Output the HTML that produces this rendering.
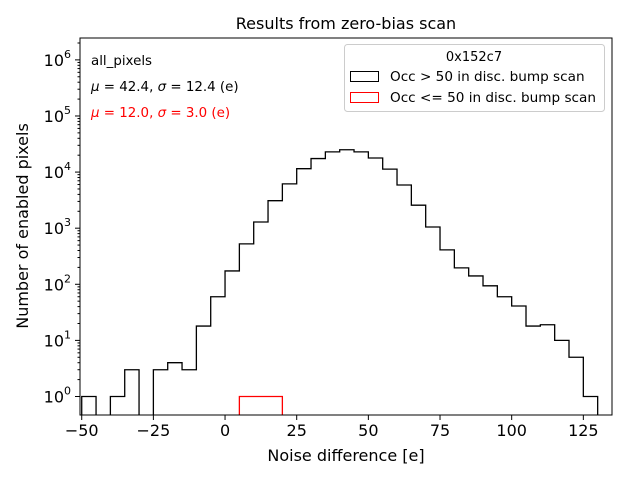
<!DOCTYPE html>
<html><head><meta charset="utf-8"><style>
body{margin:0;background:#fff;}
svg text{font-family:"DejaVu Sans","Liberation Sans",sans-serif;}
</style></head><body>
<svg id="chart" width="640" height="480" viewBox="0 0 640 480">
<rect width="640" height="480" fill="#fff"/>
<text x="346" y="29" font-size="16" text-anchor="middle">Results from zero-bias scan</text>
<g id="marks"></g>
<rect x="80" y="38" width="532" height="377" fill="none" stroke="#000" stroke-width="1"/>
<g id="axes"></g>
<text x="346" y="461" font-size="16" text-anchor="middle">Noise difference [e]</text>
<text transform="translate(28,226) rotate(-90)" font-size="16" text-anchor="middle">Number of enabled pixels</text>
<text x="91" y="65" font-size="13.4">all_pixels</text>
<text x="91" y="91" font-size="13.4"><tspan font-style="italic">μ</tspan> = 42.4, <tspan font-style="italic">σ</tspan> = 12.4 (e)</text>
<text x="91" y="117" font-size="13.4" fill="#ff0000"><tspan font-style="italic">μ</tspan> = 12.0, <tspan font-style="italic">σ</tspan> = 3.0 (e)</text>
<g>
<rect x="344.5" y="44.5" width="260" height="67" rx="3" fill="#fff" stroke="#ccc"/>
<text x="474" y="61" font-size="13" text-anchor="middle">0x152c7</text>
<rect x="350.5" y="71.5" width="28" height="10" fill="none" stroke="#000"/>
<text x="390" y="81" font-size="13.6">Occ &gt; 50 in disc. bump scan</text>
<rect x="350.5" y="92.5" width="28" height="10" fill="none" stroke="#ff0000"/>
<text x="390" y="102" font-size="13.6">Occ &lt;= 50 in disc. bump scan</text>
</g>
</svg>
<script>
const binStarts = [-50,-45,-40,-35,-30,-25,-20,-15,-10,-5,0,5,10,15,20,25,30,35,40,45,50,55,60,65,70,75,80,85,90,95,100,105,110,115,120,125];
const countsHigh = [1,0,1,3,0,3,4,3,18,60,173,525,1290,3090,6170,11500,17400,22900,25000,22900,17800,11300,5890,2570,1050,410,196,141,94,60,41,18,19,10,5,1];
const redBinStarts = [5,10,15];
const countsLow = [1,1,1];
const binWidth = 5;
const xTicks = [-50,-25,0,25,50,75,100,125];
const yTickExps = [0,1,2,3,4,5,6];

const NS="http://www.w3.org/2000/svg";
const L=80,R=612,T=38,B=415;
const xmin=-50.6,xmax=135;
const ymin=-0.33,ymax=6.39;
function xs(v){return L+(v-xmin)/(xmax-xmin)*(R-L);}
function ys(c){if(c<=0)return B+5;const l=Math.log10(c);return B-(l-ymin)/(ymax-ymin)*(B-T);}

function stepPath(starts,vals){
  let d="";
  for(let i=0;i<starts.length;i++){
    const x0=xs(starts[i]),x1=xs(starts[i]+binWidth),y=ys(vals[i]);
    if(i===0||starts[i]!==starts[i-1]+binWidth){d+="M"+x0+","+(B+5);}
    d+="L"+x0+","+y+"L"+x1+","+y;
    if(i===starts.length-1||starts[i+1]!==starts[i]+binWidth){d+="L"+x1+","+(B+5);}
  }
  return d;
}
const marks=document.getElementById("marks");
const clip=document.createElementNS(NS,"clipPath");clip.setAttribute("id","pc");
const cr=document.createElementNS(NS,"rect");cr.setAttribute("x",L);cr.setAttribute("y",T);cr.setAttribute("width",R-L);cr.setAttribute("height",B-T);
clip.appendChild(cr);marks.appendChild(clip);
const p1=document.createElementNS(NS,"path");


p1.setAttribute("d",stepPath(binStarts,countsHigh));p1.setAttribute("fill","none");p1.setAttribute("stroke","#000");p1.setAttribute("stroke-width","1.3");p1.setAttribute("clip-path","url(#pc)");
marks.appendChild(p1);
const p2=document.createElementNS(NS,"path");


p2.setAttribute("d",stepPath(redBinStarts,countsLow));p2.setAttribute("fill","none");p2.setAttribute("stroke","#ff0000");p2.setAttribute("stroke-width","1.3");p2.setAttribute("clip-path","url(#pc)");
marks.appendChild(p2);

const axes=document.getElementById("axes");
function line(x1,y1,x2,y2){const l=document.createElementNS(NS,"line");l.setAttribute("x1",x1);l.setAttribute("y1",y1);l.setAttribute("x2",x2);l.setAttribute("y2",y2);l.setAttribute("stroke","#000");axes.appendChild(l);return l;}
xTicks.forEach(v=>{
  const x=xs(v);const tk=line(x,B,x,B+5);
  
  
  const t=document.createElementNS(NS,"text");
  
  
  t.setAttribute("x",x);t.setAttribute("y",B+21);t.setAttribute("font-size","16");t.setAttribute("text-anchor","middle");
  t.textContent=(v<0?"\u2212"+(-v):String(v));axes.appendChild(t);
});
yTickExps.forEach(e=>{
  const y=ys(Math.pow(10,e));const tk=line(L-5,y,L,y);
  
  
  const t=document.createElementNS(NS,"text");
  
  
  t.setAttribute("x",L-9);t.setAttribute("y",y+6);t.setAttribute("font-size","16");t.setAttribute("text-anchor","end");
  t.innerHTML='10<tspan dy="-8" font-size="11">'+e+'</tspan>';axes.appendChild(t);
  for(let k=2;k<=9;k++){const yy=ys(k*Math.pow(10,e));if(yy>T&&yy<B){const m=line(L-2.5,yy,L,yy);
    
    }}
});
</script>
</body></html>
